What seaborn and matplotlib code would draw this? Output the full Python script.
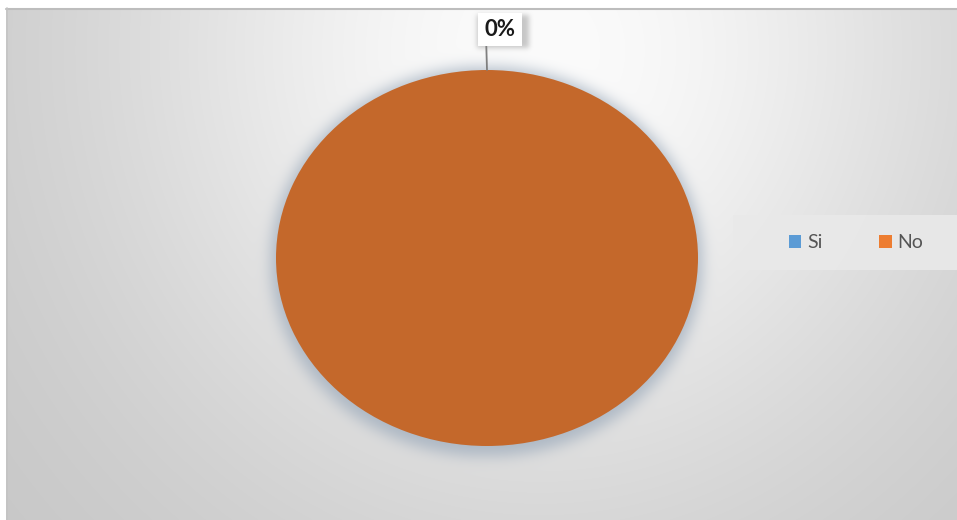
import numpy as np
import matplotlib
matplotlib.use("Agg")
import matplotlib.pyplot as plt
from matplotlib.patches import Patch, Rectangle
import seaborn as sns

# Survey answers
categories = ["Si", "No"]
values = [0, 100]

sns.set_theme(style="white")
plt.rcParams["font.family"] = ["Lato", "DejaVu Sans"]

legend_colors = sns.color_palette(["#5B9BD5", "#ED7D31"])
slice_colors = ["#5B9BD5", "#C4682B"]

W, H = 957, 520
fig = plt.figure(figsize=(W / 100, H / 100), dpi=100)

# ---- background panel: soft radial gradient with a glow behind the pie ----
yy, xx = np.mgrid[0:H, 0:W].astype(float)
r = np.hypot((xx - 540) / 1.0, (yy - 50) / 1.05)
grey = 196 + 55 * np.exp(-(r / 440.0) ** 2)
img = np.repeat(grey[:, :, None], 3, axis=2)


def blur(a, s):
    ky = np.fft.fftfreq(a.shape[0])
    kx = np.fft.fftfreq(a.shape[1])
    g = np.exp(-2 * (np.pi * s) ** 2 * (ky[:, None] ** 2 + kx[None, :] ** 2))
    return np.real(np.fft.ifft2(np.fft.fft2(a) * g))


# pie placement in pixels (centre, radii)
pcx, pcy, prx, pry = 487, 258, 211, 188
glow = (((xx - pcx + 1) / (prx + 5)) ** 2 + ((yy - pcy - 3) / (pry + 7)) ** 2 <= 1).astype(float)
ga = np.clip(blur(glow, 7), 0, 1)[:, :, None] * 0.75
img = img * (1 - ga) + np.array([158, 172, 188]) * ga

# shadow under the label box
box = ((xx >= 477) & (xx <= 528) & (yy >= 15) & (yy <= 47)).astype(float)
ba = np.clip(blur(box, 2.5), 0, 1)[:, :, None] * 0.4
img = img * (1 - ba) + np.array([120, 120, 120]) * ba

img = np.clip(img, 0, 255) / 255.0
img[:8, :, :] = 1.0
img[:, :6, :] = 1.0

bg = fig.add_axes([0, 0, 1, 1])
bg.imshow(img, extent=(0, W, H, 0), interpolation="bilinear", aspect="auto")
bg.set_xlim(0, W)
bg.set_ylim(H, 0)
bg.axis("off")
bg.plot([6, W], [8.5, 8.5], color="#BDBDBD", lw=1.5)
bg.plot([6.5, 6.5], [8, H], color="#C4C4C4", lw=1.2)
bg.add_patch(Rectangle((733, 215), W - 733, 55, facecolor="#E9E9E9", edgecolor="none", alpha=0.9))

# ---- pie ----
ax = fig.add_axes([(pcx - prx) / W, (H - pcy - pry) / H, 2 * prx / W, 2 * pry / H])
wedges, _ = ax.pie(values, colors=slice_colors, startangle=90, counterclock=False,
                   radius=1.0, wedgeprops=dict(linewidth=0))
ax.set_aspect("auto")
ax.set_xlim(-1, 1)
ax.set_ylim(-1, 1)
ax.axis("off")

total = sum(values)
w0 = wedges[0]
ang = np.deg2rad((w0.theta1 + w0.theta2) / 2)
ax.annotate(f"{values[0] / total:.0%}", xy=(np.cos(ang), np.sin(ang)),
            xytext=(0.062, 1.215), textcoords="data", ha="center", va="center",
            fontsize=16, fontweight="bold", color="#1A1A1A", annotation_clip=False,
            bbox=dict(boxstyle="square,pad=0.28", fc="white", ec="none"),
            arrowprops=dict(arrowstyle="-", color="#7F7F7F", lw=1.3,
                            relpos=(0.05, 0.0), shrinkA=0, shrinkB=0))

handles = [Patch(facecolor=c, edgecolor="none") for c in legend_colors]
fig.legend(handles, categories, loc="center", bbox_to_anchor=(856 / W, (H - 243) / H),
           ncol=2, frameon=False, fontsize=14, labelcolor="#555555",
           handlelength=0.65, handleheight=0.65, handletextpad=0.3, columnspacing=2.9)

fig.savefig("out.png", dpi=100)
